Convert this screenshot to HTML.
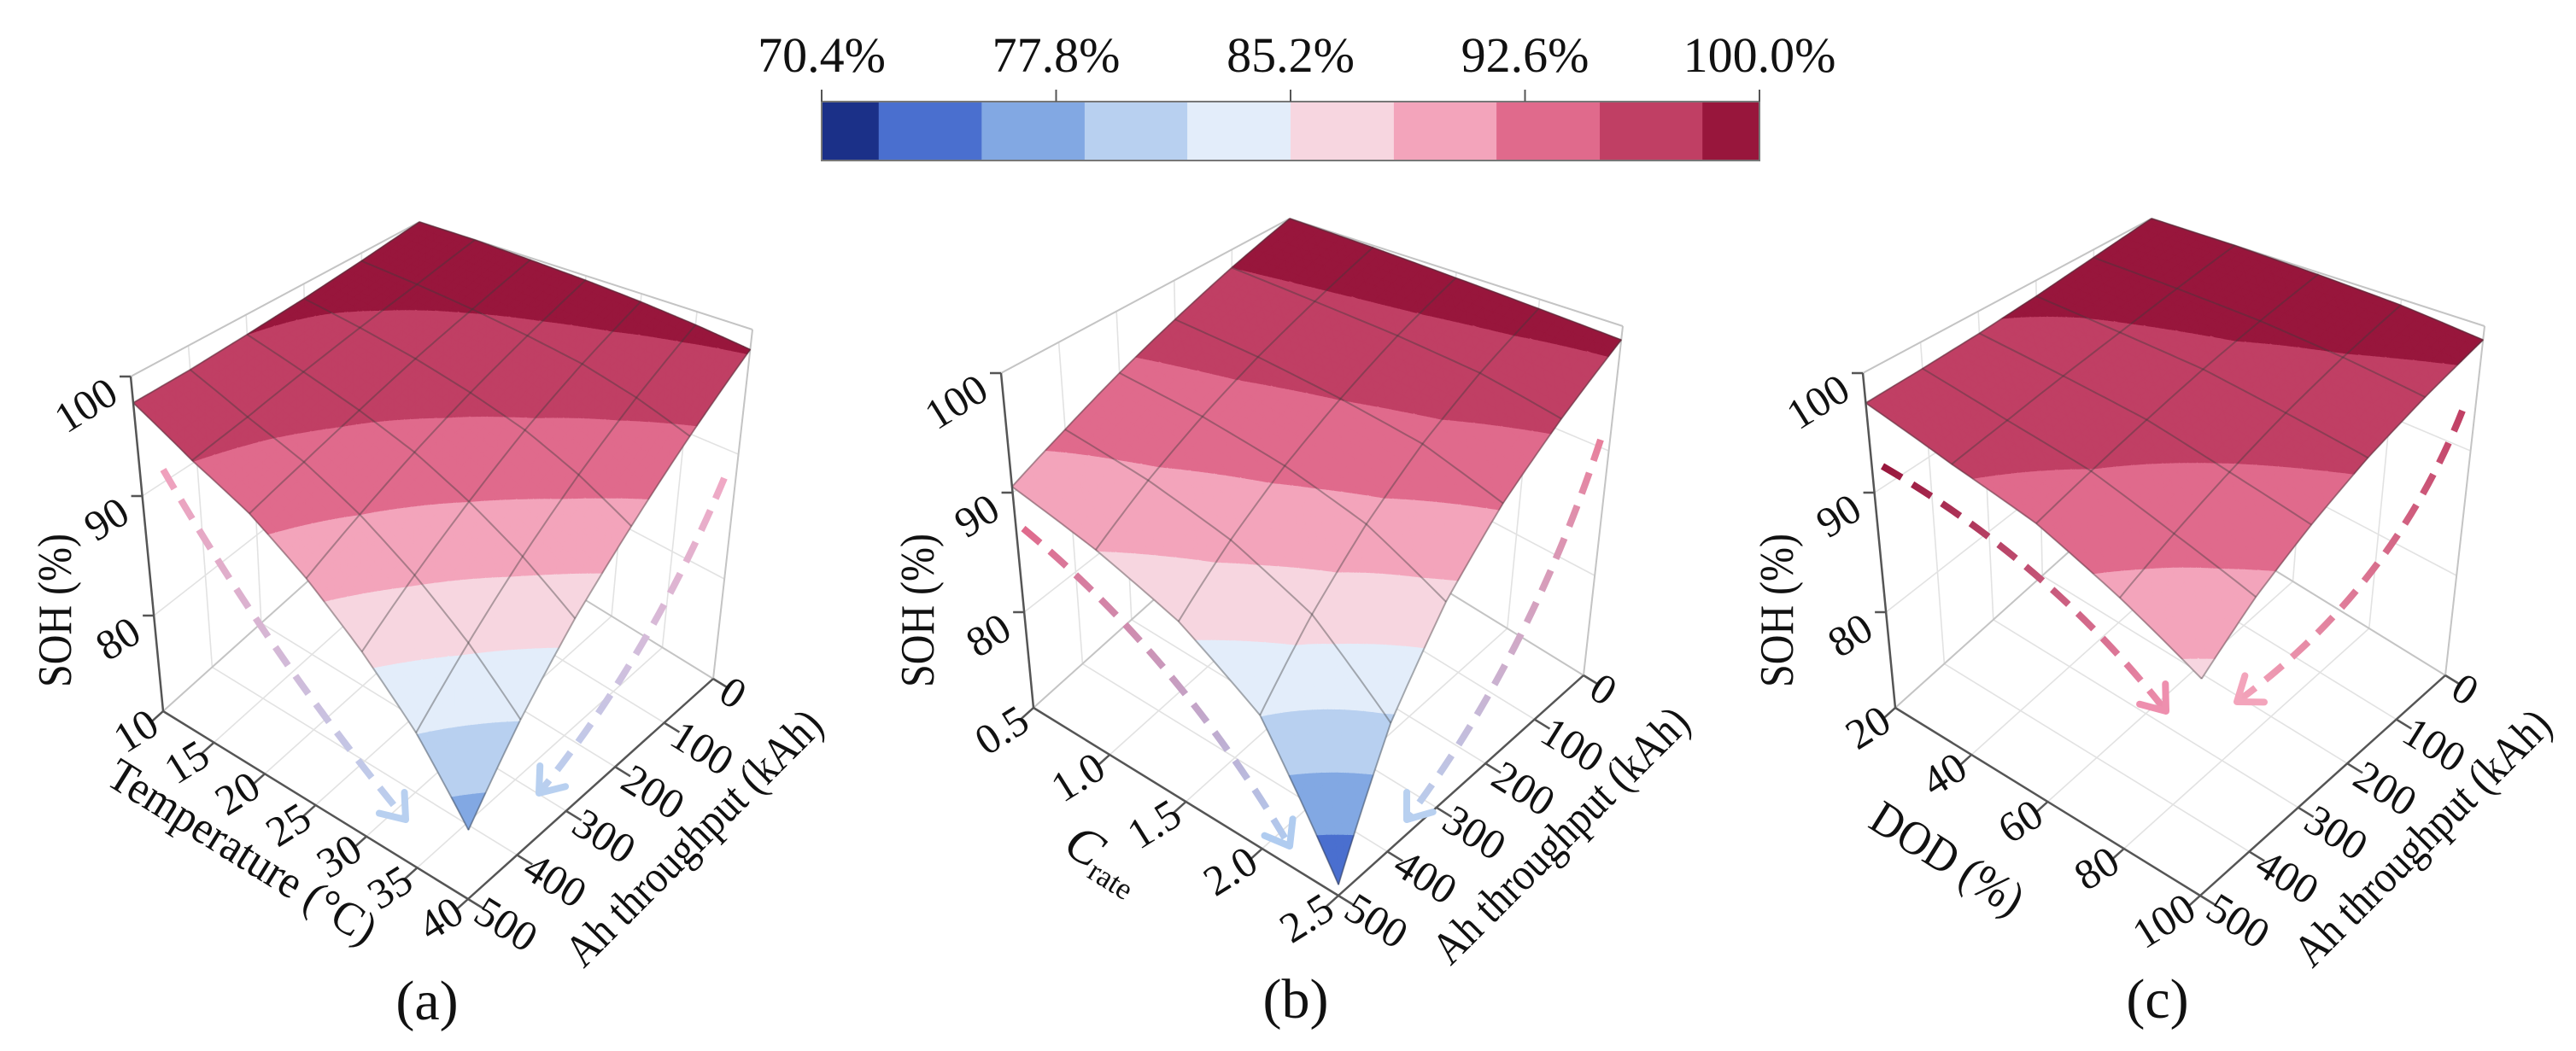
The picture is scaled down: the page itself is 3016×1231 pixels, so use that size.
<!DOCTYPE html>
<html><head><meta charset="utf-8">
<style>
html,body{margin:0;padding:0;background:#fff;}
svg{display:block;font-family:"Liberation Serif","DejaVu Serif",serif;}
svg text{font-family:"Liberation Serif","DejaVu Serif",serif;}
</style></head>
<body>
<svg id="fig" width="3016" height="1231" viewBox="0 0 3016 1231" xmlns="http://www.w3.org/2000/svg">
<defs id="defs"></defs>
<g id="colorbar"></g>
<g id="panels"></g>
</svg>
<script>
// ---------- data ----------
const cbTicks = [70.4, 77.8, 85.2, 92.6, 100.0];
const cbTickLabels = ["70.4%", "77.8%", "85.2%", "92.6%", "100.0%"];
const bandEdges = [70.4, 72.2, 75.45, 78.7, 81.94, 85.2, 88.46, 91.7, 94.96, 98.2, 100.0];
const bandColors = ["#1b3088","#4a6fcf","#82a8e3","#b8d0f0","#e3edfa","#f7d6e0","#f3a4bb","#e06a8c","#c03f64","#98163c"];

const ahValues = [0, 100, 200, 300, 400, 500];
const ahLabels = ["0","100","200","300","400","500"];
const zTicks = [80, 90, 100];

const tempValues = [10, 15, 20, 25, 30, 35, 40];
const tempLabels = ["10","15","20","25","30","35","40"];
const sohA = [
  [100, 99.2, 98.6, 98.2, 97.9, 97.8],
  [100, 98.8, 97.8, 96.8, 95.8, 95.0],
  [99.8, 98.3, 96.9, 95.4, 94.0, 92.7],
  [99.6, 97.7, 95.8, 93.8, 91.7, 89.6],
  [99.3, 97.0, 94.5, 91.7, 88.9, 86.0],
  [98.9, 95.9, 92.7, 89.3, 85.7, 82.0],
  [98.4, 94.5, 90.5, 86.5, 82.0, 77.0]
];

const crateValues = [0.5, 1.0, 1.5, 2.0, 2.5];
const crateLabels = ["0.5","1.0","1.5","2.0","2.5"];
const sohB = [
  [100, 98.2, 96.3, 94.4, 92.4, 90.5],
  [99.8, 97.8, 95.8, 93.6, 91.2, 88.5],
  [99.5, 97.4, 95.0, 92.4, 89.4, 86.0],
  [99.2, 96.8, 94.0, 90.6, 86.6, 82.0],
  [98.9, 95.6, 92.0, 87.5, 81.5, 72.8]
];

const dodValues = [20, 40, 60, 80, 100];
const dodLabels = ["20","40","60","80","100"];
const sohC = [
  [100, 99.2, 98.5, 98.0, 97.7, 97.5],
  [100, 99.0, 98.0, 97.1, 96.2, 95.4],
  [99.8, 98.7, 97.5, 96.2, 94.9, 93.6],
  [99.5, 98.1, 96.5, 94.7, 92.8, 90.8],
  [98.9, 97.3, 95.5, 93.3, 90.8, 87.7]
];

// ---------- helpers ----------
const NS = "http://www.w3.org/2000/svg";
function mk(tag, attrs, parent){
  const e = document.createElementNS(NS, tag);
  for (const k in attrs) e.setAttribute(k, attrs[k]);
  if (parent) parent.appendChild(e);
  return e;
}

// ---------- colorbar ----------
const cb = document.getElementById('colorbar');
const CBX0 = 962, CBX1 = 2060, CBY0 = 119, CBY1 = 188;
function cbX(v){ return CBX0 + (v - bandEdges[0]) / (bandEdges[bandEdges.length-1] - bandEdges[0]) * (CBX1 - CBX0); }
for (let i = 0; i < bandColors.length; i++){
  const r = mk('rect', {x: cbX(bandEdges[i]), y: CBY0, width: cbX(bandEdges[i+1]) - cbX(bandEdges[i]) + 0.5, height: CBY1 - CBY0, fill: bandColors[i]}, cb);
  
  
}
mk('rect', {x: CBX0, y: CBY0, width: CBX1 - CBX0, height: CBY1 - CBY0, fill: 'none', stroke: '#777', 'stroke-width': 2}, cb);
for (let i = 0; i < cbTicks.length; i++){
  const x = cbX(cbTicks[i]);
  mk('line', {x1: x, y1: 105, x2: x, y2: CBY0, stroke: '#555', 'stroke-width': 2}, cb);
  const t = mk('text', {x: x, y: 84, 'font-size': 58, 'text-anchor': 'middle', fill: '#111'}, cb);
  t.textContent = cbTickLabels[i];
  
  
}

// ---------- 3D panels ----------
const ZMIN = 72, ZMAX = 100;
const G = {
  Bb:[478,575], Bt:[491,260],
  Lb:[191,833], Lt:[153,441],
  Fb:[548,1053], Ft:[551,600],
  Rb:[835,795], Rt:[881,386]
};
function bil(B,L,F,R,u,v){
  return [
    B[0]*(1-u)*(1-v) + L[0]*(1-u)*v + F[0]*u*v + R[0]*u*(1-v),
    B[1]*(1-u)*(1-v) + L[1]*(1-u)*v + F[1]*u*v + R[1]*u*(1-v)
  ];
}
function proj(P,u,v,z){
  const b = bil(G.Bb,G.Lb,G.Fb,G.Rb,u,v);
  const t = bil(G.Bt,G.Lt,G.Ft,G.Rt,u,v);
  const s = (z - ZMIN) / (ZMAX - ZMIN);
  return [b[0] + (t[0]-b[0])*s + P.dx, b[1] + (t[1]-b[1])*s + P.dy];
}
function uOf(P, x){ const a = P.xs[0], b = P.xs[P.xs.length-1]; return (x - a) / (b - a); }
function vOf(y){ return (y - ahValues[0]) / (ahValues[ahValues.length-1] - ahValues[0]); }
function pstr(p){ return p[0].toFixed(1) + ',' + p[1].toFixed(1); }

function clipPoly(poly, lo, hi){
  function clip(pts, keep, th){
    const out = [];
    for (let i = 0; i < pts.length; i++){
      const a = pts[i], b = pts[(i+1) % pts.length];
      const ka = keep(a.z), kb = keep(b.z);
      if (ka) out.push(a);
      if (ka !== kb){
        const t = (th - a.z) / (b.z - a.z);
        out.push({u: a.u + (b.u-a.u)*t, v: a.v + (b.v-a.v)*t, z: th});
      }
    }
    return out;
  }
  let p = clip(poly, z => z >= lo, lo);
  if (p.length < 3) return p;
  return clip(p, z => z <= hi, hi);
}

const panelDefs = [
  {id:'a', xs: tempValues, xl: tempLabels, zs: sohA, dx: 0, dy: 0},
  {id:'b', xs: crateValues, xl: crateLabels, zs: sohB, dx: 1019, dy: -4},
  {id:'c', xs: dodValues, xl: dodLabels, zs: sohC, dx: 2028, dy: -4}
];

const root = document.getElementById('panels');
const defs = document.getElementById('defs');

panelDefs.forEach(P => {
  const g = mk('g', {}, root);
  
  

  const grid = mk('g', {stroke: '#e2e2e2', 'stroke-width': 1.6, fill: 'none'}, g);
  
  
  P.xs.forEach(x => {
    const u = uOf(P, x);
    let a = proj(P,u,0,ZMIN), b = proj(P,u,1,ZMIN);
    mk('line', {x1:a[0], y1:a[1], x2:b[0], y2:b[1]}, grid);
    a = proj(P,u,0,ZMIN); b = proj(P,u,0,ZMAX);
    mk('line', {x1:a[0], y1:a[1], x2:b[0], y2:b[1]}, grid);
  });
  ahValues.forEach(y => {
    const v = vOf(y);
    let a = proj(P,0,v,ZMIN), b = proj(P,1,v,ZMIN);
    mk('line', {x1:a[0], y1:a[1], x2:b[0], y2:b[1]}, grid);
    a = proj(P,0,v,ZMIN); b = proj(P,0,v,ZMAX);
    mk('line', {x1:a[0], y1:a[1], x2:b[0], y2:b[1]}, grid);
  });
  zTicks.forEach(z => {
    let a = proj(P,0,0,z), b = proj(P,0,1,z);
    mk('line', {x1:a[0], y1:a[1], x2:b[0], y2:b[1]}, grid);
    a = proj(P,0,0,z); b = proj(P,1,0,z);
    mk('line', {x1:a[0], y1:a[1], x2:b[0], y2:b[1]}, grid);
  });
  const box = mk('g', {stroke: '#c4c4c4', 'stroke-width': 2, fill: 'none'}, g);
  [[[0,0,ZMIN],[0,0,ZMAX]],[[1,0,ZMIN],[1,0,ZMAX]],[[0,0,ZMAX],[0,1,ZMAX]],[[0,0,ZMAX],[1,0,ZMAX]],[[0,0,ZMIN],[0,1,ZMIN]],[[0,0,ZMIN],[1,0,ZMIN]]].forEach(e => {
    const a = proj(P,...e[0]), b = proj(P,...e[1]);
    mk('line', {x1:a[0], y1:a[1], x2:b[0], y2:b[1]}, box);
  });

  // surface
  const surf = mk('g', {}, g);
  
  
  const nu = P.xs.length - 1, nv = ahValues.length - 1, N = 8;
  function val(uu, vv){
    const i = Math.min(Math.floor(uu), nu-1), j = Math.min(Math.floor(vv), nv-1);
    const fu = uu - i, fv = vv - j;
    const Z = P.zs;
    return Z[i][j]*(1-fu)*(1-fv) + Z[i+1][j]*fu*(1-fv) + Z[i][j+1]*(1-fu)*fv + Z[i+1][j+1]*fu*fv;
  }
  function sp(uu, vv, z){ return proj(P, uu/nu, vv/nv, z === undefined ? val(uu, vv) : z); }
  const quads = [];
  for (let i = 0; i < nu; i++) for (let j = 0; j < nv; j++)
    for (let a = 0; a < N; a++) for (let b = 0; b < N; b++){
      const u0 = i + a/N, u1 = i + (a+1)/N, v0 = j + b/N, v1 = j + (b+1)/N;
      quads.push({u0,u1,v0,v1,d:(u0+u1)/nu + (v0+v1)/nv});
    }
  quads.sort((p,q) => p.d - q.d);
  quads.forEach(q => {
    const c00 = {u:q.u0, v:q.v0, z:val(q.u0,q.v0)};
    const c10 = {u:q.u1, v:q.v0, z:val(q.u1,q.v0)};
    const c11 = {u:q.u1, v:q.v1, z:val(q.u1,q.v1)};
    const c01 = {u:q.u0, v:q.v1, z:val(q.u0,q.v1)};
    [[c00,c10,c11],[c00,c11,c01]].forEach(tri => {
      const zmn = Math.min(tri[0].z,tri[1].z,tri[2].z), zmx = Math.max(tri[0].z,tri[1].z,tri[2].z);
      for (let k = 0; k < bandColors.length; k++){
        const lo = k === 0 ? -1e9 : bandEdges[k];
        const hi = k === bandColors.length-1 ? 1e9 : bandEdges[k+1];
        if (zmx < lo || zmn > hi) continue;
        const poly = clipPoly(tri, lo, hi);
        if (poly.length < 3) continue;
        const pts = poly.map(p => pstr(sp(p.u, p.v, p.z))).join(' ');
        mk('polygon', {points: pts, fill: bandColors[k], stroke: bandColors[k], 'stroke-width': 1, 'stroke-linejoin': 'round'}, surf);
      }
    });
  });
  const mesh = mk('g', {stroke: 'rgba(60,60,60,0.4)', 'stroke-width': 2, fill: 'none'}, g);
  
  
  for (let i = 0; i <= nu; i++){
    const pts = []; for (let k = 0; k <= nv*10; k++) pts.push(pstr(sp(i, k/10)));
    mk('polyline', {points: pts.join(' ')}, mesh);
  }
  for (let j = 0; j <= nv; j++){
    const pts = []; for (let k = 0; k <= nu*10; k++) pts.push(pstr(sp(k/10, j)));
    mk('polyline', {points: pts.join(' ')}, mesh);
  }

  // axes
  const ax = mk('g', {stroke: '#555', 'stroke-width': 2.5, fill: 'none'}, g);
  
  
  [[[0,1,ZMIN],[1,1,ZMIN]],[[1,1,ZMIN],[1,0,ZMIN]],[[0,1,ZMIN],[0,1,ZMAX]]].forEach(e => {
    const a = proj(P,...e[0]), b = proj(P,...e[1]);
    mk('line', {x1:a[0], y1:a[1], x2:b[0], y2:b[1]}, ax);
  });
  const labs = mk('g', {'font-size': 50, fill: '#111'}, g);
  P.xs.forEach((x, k) => {
    const u = uOf(P, x);
    const a = proj(P,u,1,ZMIN), b = proj(P,u,1.05,ZMIN);
    mk('line', {x1:a[0], y1:a[1], x2:b[0], y2:b[1]}, ax);
    const px = a[0] - 8, py = a[1] + 14;
    const t = mk('text', {x: px, y: py, 'text-anchor': 'end', 'dominant-baseline': 'middle', transform: `rotate(-32 ${px} ${py})`}, labs);
    t.textContent = P.xl[k];
    
    
  });
  ahValues.forEach((y, k) => {
    const v = vOf(y);
    const a = proj(P,1,v,ZMIN), b = proj(P,1.05,v,ZMIN);
    mk('line', {x1:a[0], y1:a[1], x2:b[0], y2:b[1]}, ax);
    const px = a[0] + 10, py = a[1] + 14;
    const t = mk('text', {x: px, y: py, 'text-anchor': 'start', 'dominant-baseline': 'middle', transform: `rotate(32 ${px} ${py})`}, labs);
    t.textContent = ahLabels[k];
    
    
  });
  zTicks.forEach(z => {
    const a = proj(P,0,1,z);
    mk('line', {x1:a[0], y1:a[1], x2:a[0]-13, y2:a[1]}, ax);
    const px = a[0] - 18, py = a[1] + 18;
    const t = mk('text', {x: px, y: py, 'text-anchor': 'end', 'dominant-baseline': 'middle', transform: `rotate(-32 ${px} ${py})`}, labs);
    t.textContent = String(z);
    
    
  });
});

// ---------- axis titles ----------
function title(txt, x, y, rot, size, name, len){
  const a = {x:x, y:y, 'font-size': size, 'text-anchor':'middle', 'dominant-baseline':'middle', fill:'#111', transform:`rotate(${rot} ${x} ${y})`};
  if (len){ a.textLength = len; a.lengthAdjust = 'spacingAndGlyphs'; }
  const t = mk('text', a, root);
  t.textContent = txt;
  
  
  return t;
}
title('SOH (%)', 70, 715, -90, 56, 'soh-axis-title', 180);
title('SOH (%)', 1080, 715, -90, 56, 'soh-axis-title', 180);
title('SOH (%)', 2086, 715, -90, 56, 'soh-axis-title', 180);
title('Ah throughput (kAh)', 816, 985, -45, 54, 'ah-axis-title', 400);
title('Ah throughput (kAh)', 1831, 982, -45, 54, 'ah-axis-title', 400);
title('Ah throughput (kAh)', 2840, 985, -45, 54, 'ah-axis-title', 400);
title('Temperature (°C)', 281, 1002, 32, 54, 'temperature-axis-title', 360);
title('DOD (%)', 2277, 1010, 32, 56, 'dod-axis-title', 200);
(function(){
  const x = 1250, y = 985;
  const t = mk('text', {x:x, y:y, 'font-size':60, fill:'#111', 'dominant-baseline':'middle', transform:`rotate(32 ${x} ${y})`}, root);
  
  
  const s1 = mk('tspan', {'font-style':'italic'}, t); s1.textContent = 'C';
  const s2 = mk('tspan', {'font-size':36, dy:16}, t); s2.textContent = 'rate';
})();
title('(a)', 500, 1179, 0, 66, 'panel-label-a');
title('(b)', 1517, 1177, 0, 66, 'panel-label-b');
title('(c)', 2526, 1177, 0, 66, 'panel-label-c');

// ---------- dashed trend arrows ----------
const arrows = [
  {s:[191,550], c:[318,770], e:[475,960], c1:'#f0a0bc', c2:'#b8d0f0'},
  {s:[848,560], c:[760,770], e:[631,929], c1:'#f0a8c4', c2:'#b8d0f0'},
  {s:[1198,619], c:[1380,770], e:[1510,991], c1:'#e06a8c', c2:'#b0ccf0'},
  {s:[1874,515], c:[1790,770], e:[1647,960], c1:'#e8809c', c2:'#b8d0f0'},
  {s:[2204,546], c:[2400,660], e:[2536,833], c1:'#98163c', c2:'#ee8fae'},
  {s:[2883,481], c:[2800,690], e:[2619,822], c1:'#c03f64', c2:'#f3a4bb'}
];
arrows.forEach((A, k) => {
  const gid = 'ag' + k;
  const lg = mk('linearGradient', {id: gid, gradientUnits:'userSpaceOnUse', x1:A.s[0], y1:A.s[1], x2:A.e[0], y2:A.e[1]}, defs);
  mk('stop', {offset:'0', 'stop-color':A.c1}, lg);
  mk('stop', {offset:'1', 'stop-color':A.c2}, lg);
  const g = mk('g', {fill:'none', stroke:`url(#${gid})`, 'stroke-width':8}, root);
  
  
  mk('path', {d:`M${A.s[0]},${A.s[1]} Q${A.c[0]},${A.c[1]} ${A.e[0]},${A.e[1]}`, 'stroke-dasharray':'26 15'}, g);
  const dx = A.e[0]-A.c[0], dy = A.e[1]-A.c[1], L = Math.hypot(dx,dy);
  const ux = dx/L, uy = dy/L, hl = 32;
  const p1 = [A.e[0] - hl*(ux*0.8 - uy*0.6), A.e[1] - hl*(uy*0.8 + ux*0.6)];
  const p2 = [A.e[0] - hl*(ux*0.8 + uy*0.6), A.e[1] - hl*(uy*0.8 - ux*0.6)];
  mk('polyline', {points:`${p1[0]},${p1[1]} ${A.e[0]},${A.e[1]} ${p2[0]},${p2[1]}`, stroke:A.c2, 'stroke-linecap':'round', 'stroke-linejoin':'round'}, g);
});
</script>
</body></html>
